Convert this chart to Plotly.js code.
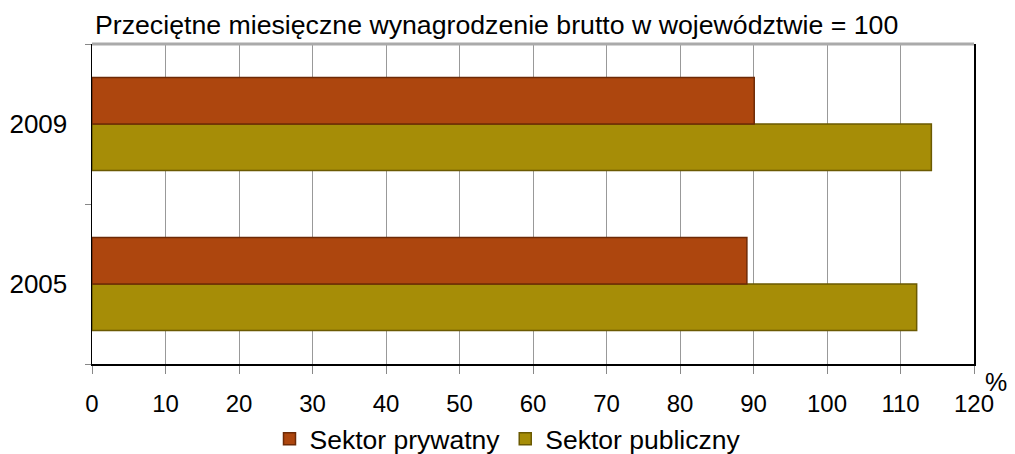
<!DOCTYPE html>
<html><head><meta charset="utf-8">
<script src="https://cdn.plot.ly/plotly-3.0.1.min.js"></script>
<style>body{margin:0;background:#fff}#c{width:1015px;height:454px}</style>
</head><body><div id="c"></div>
<script>
var years = ['2005', '2009'];
var privateSector = [89.1, 90.1];
var publicSector = [112.2, 114.2];
var seriesNames = ['Sektor prywatny', 'Sektor publiczny'];
var xTicks = [0,10,20,30,40,50,60,70,80,90,100,110,120];
var titleText = 'Przeciętne miesięczne wynagrodzenie brutto w województwie = 100';

var font = 'Liberation Sans, Arial, sans-serif';
var traces = [
  {type:'bar', orientation:'h', name: seriesNames[1], y: years, x: publicSector,
   marker:{color:'#a68d07', line:{color:'#6b5a02', width:1.5}}},
  {type:'bar', orientation:'h', name: seriesNames[0], y: years, x: privateSector,
   marker:{color:'#ad460e', line:{color:'#6e2a06', width:1.5}}}
];
var layout = {
  width:1015, height:454,
  margin:{l:92, r:41, t:44, b:90},
  paper_bgcolor:'#fff', plot_bgcolor:'#fff',
  barmode:'group', bargap:0.42, bargroupgap:0,
  font:{family:font, size:24, color:'#000'},
  showlegend:true,
  legend:{orientation:'h', xref:'container', yref:'container', x:0.5, xanchor:'center',
          y:1-439/454, yanchor:'middle', traceorder:'reversed', font:{size:26.5},
          itemwidth:30, tracegroupgap:0},
  xaxis:{range:[0,120], tickvals:xTicks, ticktext:xTicks.map(String), automargin:false,
         showgrid:true, gridcolor:'#999', gridwidth:1,
         showline:true, linecolor:'#000', linewidth:1.5,
         ticks:'outside', ticklen:8, tickcolor:'#888', ticklabelstandoff:10,
         tickfont:{size:24}, zeroline:false, fixedrange:true},
  yaxis:{type:'category', categoryarray: years, showgrid:false, automargin:false,
         showline:true, linecolor:'#000', linewidth:1.5, mirror:true,
         ticks:'outside', tickson:'boundaries', ticklen:6, tickcolor:'#888',
         ticklabelstandoff:18, tickfont:{size:26}, zeroline:false},
  shapes:[{type:'line', xref:'paper', yref:'paper', x0:0, x1:1, y0:1, y1:1,
           line:{color:'#aaa', width:3}}],
  annotations:[
    {xref:'paper', yref:'paper', x:0.001, y:1+(44-25)/320, xanchor:'left', yanchor:'middle',
     text:titleText, showarrow:false, font:{size:26.7}},
    {xref:'paper', yref:'paper', x:1+(996-974)/882, y:-(382-364)/320, xanchor:'center', yanchor:'middle',
     text:'%', showarrow:false, font:{size:25}}
  ]
};
Plotly.newPlot('c', traces, layout, {displayModeBar:false, staticPlot:true});
</script></body></html>
